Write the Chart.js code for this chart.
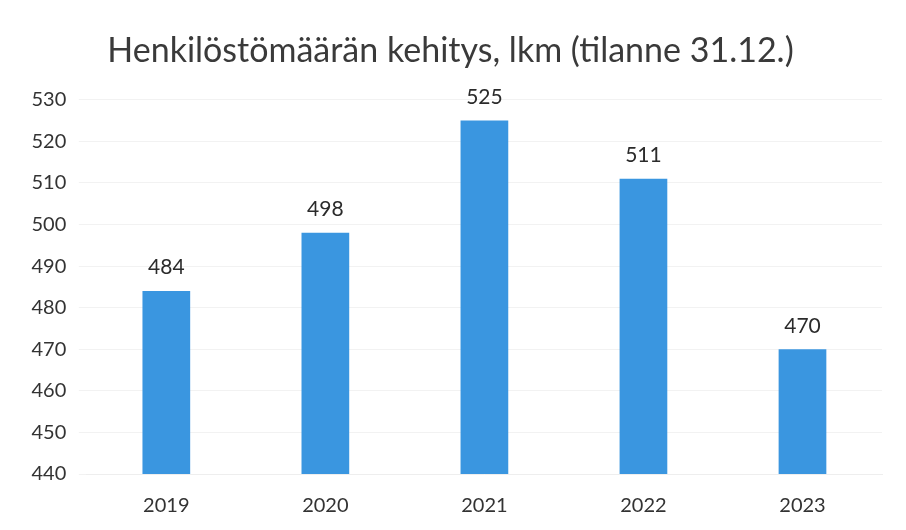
<!DOCTYPE html>
<html><head><meta charset="utf-8">
<script src="https://cdn.jsdelivr.net/npm/chart.js@4"></script>
<style>html,body{margin:0;padding:0;background:#fff}#w{width:906px;height:530px}</style>
</head><body><div id="w"><canvas id="c" width="906" height="530"></canvas></div>
<script>
const categories = ["2019","2020","2021","2022","2023"];
const values = [484, 498, 525, 511, 470];
const yTicks = [440,450,460,470,480,490,500,510,520,530];
const titleText = "Henkilöstömäärän kehitys, lkm (tilanne 31.12.)";

const labelPlugin = {
  id: 'labels',
  afterDatasetsDraw(chart) {
    const ctx = chart.ctx;
    const meta = chart.getDatasetMeta(0);
    ctx.save();
    ctx.fillStyle = '#2b2b2b';
    ctx.font = '21px Lato';
    ctx.textAlign = 'center';
    ctx.textBaseline = 'bottom';
    meta.data.forEach((bar, i) => {
      ctx.fillText(String(values[i]), bar.x, bar.y - 13);
    });
    ctx.restore();
  }
};

new Chart(document.getElementById('c'), {
  type: 'bar',
  data: { labels: categories, datasets: [{ data: values, backgroundColor: '#3a96e0', barPercentage: 0.30, categoryPercentage: 1.0 }] },
  options: {
    responsive: false, animation: false,
    layout: { padding: { left: 19, right: 24, top: 0, bottom: 0 } },
    plugins: {
      legend: { display: false }, tooltip: { enabled: false },
      title: { display: true, text: titleText, color: '#3a3a3a', font: { family: 'Lato', size: 34, weight: 'normal' }, padding: { top: 31, bottom: 28 } }
    },
    scales: {
      x: { grid: { display: false }, border: { display: true, color: '#eeeeee' }, ticks: { color: '#333', font: { family: 'Lato', size: 20 }, padding: 12 } },
      y: { min: 440, max: 530, afterBuildTicks: (s) => { s.ticks = yTicks.map(v => ({ value: v })); },
           grid: { color: '#f2f2f2' }, border: { display: false },
           ticks: { color: '#333', font: { family: 'Lato', size: 20 }, padding: 12.5 } }
    }
  },
  plugins: [labelPlugin]
});
</script></body></html>
